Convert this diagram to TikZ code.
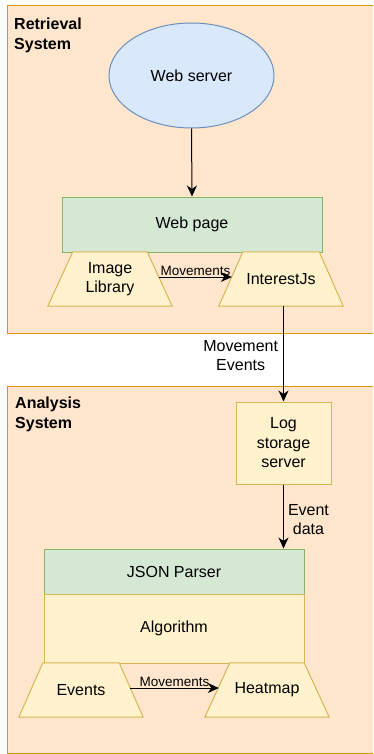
\documentclass[tikz,border=0pt]{standalone}
\usepackage{fontspec}
\setmainfont{Liberation Sans}
\usetikzlibrary{shapes.geometric,arrows.meta}
\definecolor{orfill}{HTML}{FFE6CC}
\definecolor{orline}{HTML}{D79B00}
\definecolor{blfill}{HTML}{DAE8FC}
\definecolor{blline}{HTML}{6C8EBF}
\definecolor{grfill}{HTML}{D5E8D4}
\definecolor{grline}{HTML}{82B366}
\definecolor{ylfill}{HTML}{FFF2CC}
\definecolor{ylline}{HTML}{D6B656}
\tikzset{
  body/.style={font=\fontsize{16}{19.5}\selectfont},
  small/.style={font=\fontsize{13.5}{16}\selectfont},
  title/.style={font=\fontsize{16}{20}\selectfont\bfseries, align=left, anchor=north west, inner sep=0pt},
  group/.style={draw=orline, fill=orfill, line width=1pt},
  greenbox/.style={draw=grline, fill=grfill, line width=1pt, body, inner sep=0pt},
  yellowbox/.style={draw=ylline, fill=ylfill, line width=1pt, body, inner sep=0pt, align=center},
  trap/.style={body, inner sep=0pt, align=center, minimum height=54pt, minimum width=124pt},
  trapline/.style={draw=ylline, fill=ylfill, line width=1pt, line join=miter},
  conn/.style={line width=1pt, -{Stealth[length=11pt,width=10pt,inset=3.5pt]}},
  lbl/.style={inner sep=1pt, align=center}
}
\newcommand{\trapshape}[2]{%
  \path[trapline] (#1.south west) -- ([xshift=#2]#1.north west) -- ([xshift=-#2]#1.north east) -- (#1.south east) -- cycle;}
\begin{document}
\begin{tikzpicture}[x=1pt,y=-1pt]
\useasboundingbox (0,0) rectangle (373,754);
\clip (0,0) rectangle (373,754);
% groups
\path[group] (7,6) rectangle (390,333);
\path[group] (7,386) rectangle (390,753);
\node[title] (rt) at (14,18) {Retrieval\\System};
\node[title] (at) at (15,397) {Analysis\\System};
% retrieval system
\node[draw=blline, fill=blfill, line width=1pt, ellipse, minimum width=165pt, minimum height=105pt, inner sep=0pt, body] (ws) at (191.5,75.5) {Web server};
\node[greenbox, minimum width=260pt, minimum height=55pt] (wp) at (192,224.5) {Web page};
\node[trap] (il) at (110,279) {};
\node[trap] (ij) at (281,279) {};
\trapshape{il}{25pt}
\trapshape{ij}{24pt}
\node[body, align=center, inner sep=0pt] (ilt) at (il.center) {Image\\Library};
\node[body, inner sep=0pt] (ijt) at (ij.center) {InterestJs};
% analysis system
\node[yellowbox, minimum width=95pt, minimum height=82pt] (log) at (283.5,443) {Log\\storage\\server};
\node[greenbox, minimum width=260pt, minimum height=45pt] (json) at (174,571.5) {JSON Parser};
\node[yellowbox, minimum width=260pt, minimum height=69pt] (alg) at (174,628.5) {Algorithm};
\node[trap] (ev) at (81,690) {};
\node[trap] (hm) at (267,690) {};
\trapshape{ev}{24pt}
\trapshape{hm}{25pt}
\node[body, inner sep=0pt] (evt) at (ev.center) {Events};
\node[body, inner sep=0pt] (hmt) at (hm.center) {Heatmap};
% connectors
\coordinate (ilo) at ([xshift=-13pt,yshift=2pt]il.east);
\coordinate (iji) at ([xshift=13pt,yshift=2pt]ij.west);
\draw[conn] (ws.south) -- (wp.north);
\draw[conn] (ilo) -- (iji) node[midway, above, lbl, small, inner sep=0.5pt] {Movements};
\draw[conn] (log.north |- ij.south) -- (log.north) node[pos=0.52, left, lbl, body, xshift=-4pt] {Movement\\Events};
\draw[conn] (log.south) -- (log.south |- json.north) node[midway, right, lbl, body, xshift=3pt, yshift=-3pt] {Event\\data};
\coordinate (evo) at ([xshift=-13pt,yshift=2pt]ev.east);
\coordinate (hmi) at ([xshift=14pt,yshift=2pt]hm.west);
\draw[conn] (evo) -- (hmi) node[midway, above, lbl, small, inner sep=0.5pt] {Movements};
\end{tikzpicture}
\end{document}
